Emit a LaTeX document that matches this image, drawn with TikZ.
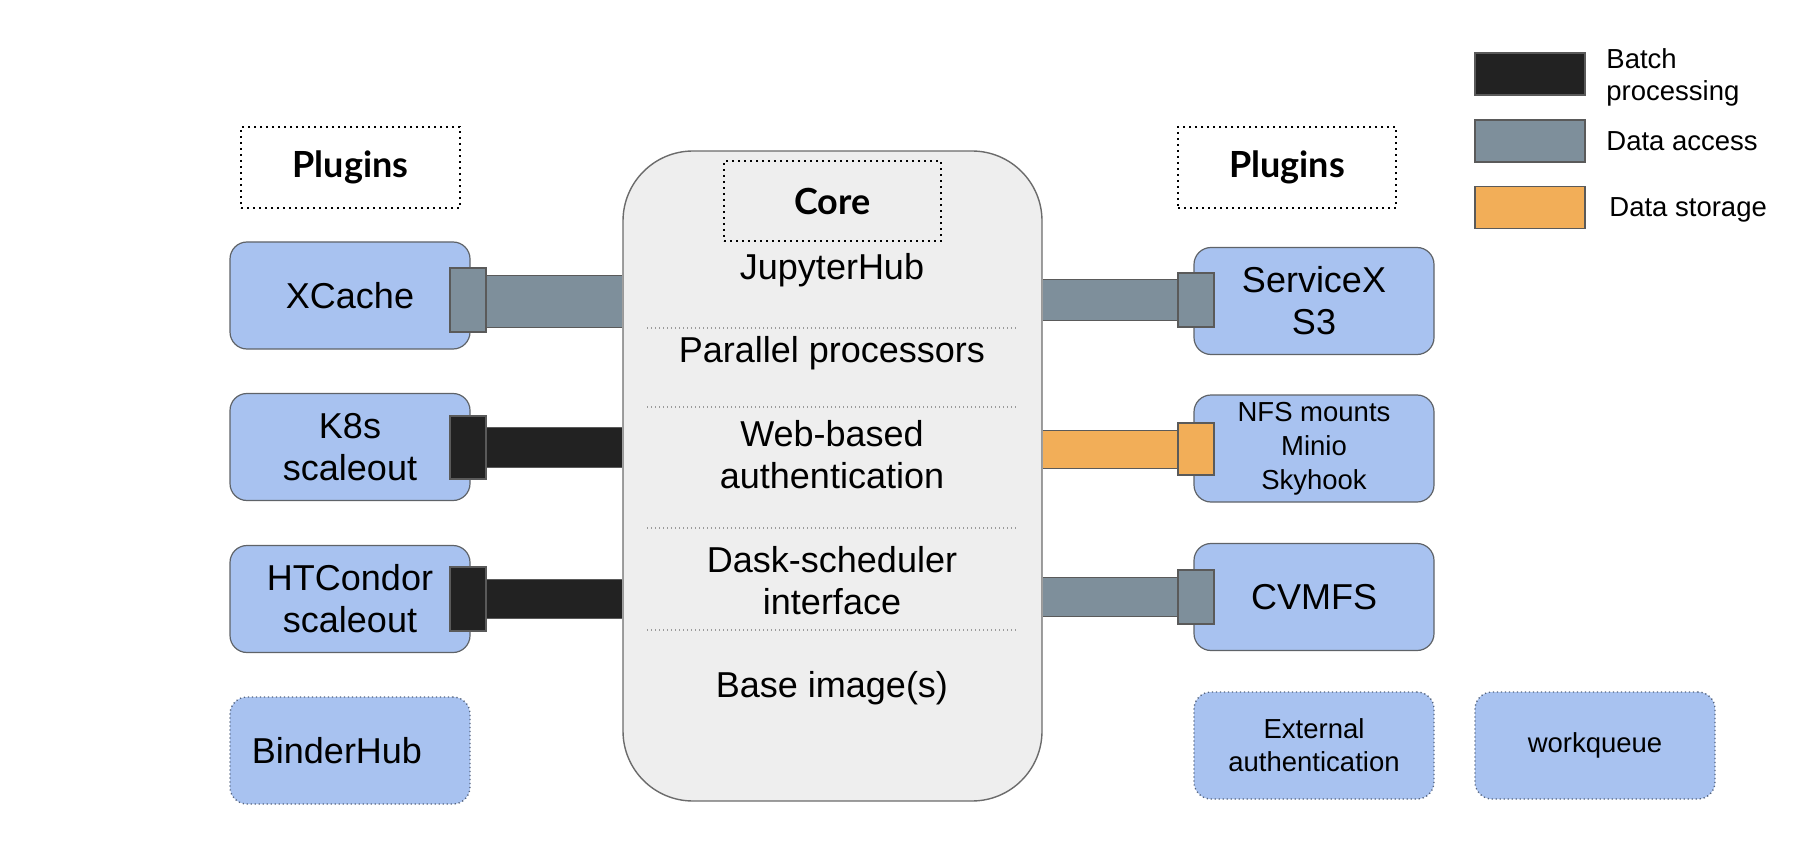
\documentclass[tikz,border=0pt]{standalone}
\usepackage{fontspec}
\setmainfont{Liberation Sans}
\newfontfamily\latofont{Lato}
\usetikzlibrary{backgrounds}
\definecolor{plugblue}{HTML}{A8C2F0}
\definecolor{boxline}{HTML}{5F6368}
\definecolor{corefill}{HTML}{EEEEEE}
\definecolor{coreline}{HTML}{6B6B6B}
\definecolor{accgrey}{HTML}{7E8F9B}
\definecolor{batchblack}{HTML}{222222}
\definecolor{storeorange}{HTML}{F2AE58}
\definecolor{connline}{HTML}{5A5A5A}
\definecolor{sepgrey}{HTML}{9A9A9A}
\definecolor{dotblue}{HTML}{56657F}
\begin{document}
\begin{tikzpicture}[x=0.5pt,y=-0.5pt,
  mainfont/.style={font=\fontsize{18}{21}\selectfont},
  smallfont/.style={font=\fontsize{13.75}{17}\selectfont},
  plugbox/.style={draw=boxline, line width=0.6pt, fill=plugblue, rounded corners=8.5pt,
    minimum width=120pt, minimum height=53.5pt, inner sep=0pt, align=center},
  dotbox/.style={plugbox, draw=dotblue, dash pattern=on 0.6pt off 1.4pt, line width=0.7pt},
  labelbox/.style={draw=black, line width=0.8pt, dash pattern=on 0.8pt off 2.2pt, inner sep=0pt,
    font=\latofont\bfseries\fontsize{18}{21}\selectfont},
  corebox/.style={draw=coreline, line width=0.7pt, fill=corefill, rounded corners=35pt,
    minimum width=209.5pt, minimum height=325pt, inner sep=0pt},
  coretext/.style={mainfont, align=center, inner sep=0pt},
  sepline/.style={draw=sepgrey, line width=0.7pt, dash pattern=on 0.6pt off 1.4pt},
  connrect/.style={draw=connline, line width=1pt, minimum width=18pt, inner sep=0pt},
  bar/.style={draw=connline, line width=0.5pt},
  legrect/.style={draw=connline, line width=0.8pt, minimum width=55pt, minimum height=21pt, inner sep=0pt},
  legtext/.style={font=\fontsize{13.75}{16}\selectfont, align=left, inner sep=0pt, anchor=west}
]
\useasboundingbox (0,0) rectangle (1820,866);

% legend
\node[legrect, fill=batchblack] (lgb) at (1530,74) {};
\node[legrect, fill=accgrey] (lga) at (1530,141) {};
\node[legrect, fill=storeorange] (lgs) at (1530,207.5) {};
\node[legtext] (lgbt) at (1606,77) {Batch\\processing};
\node[legtext] (lgat) at (1606,141) {Data access};
\node[legtext] (lgst) at (1609,210) {Data storage};

% plugin headings
\node[labelbox, minimum width=109.5pt, minimum height=40.5pt] (plugl) at (350.5,167.5) {Plugins};
\node[labelbox, minimum width=109pt, minimum height=40.5pt] (plugr) at (1287,167.5) {Plugins};

% core
\node[corebox] (core) at (832.5,476) {};
\node[labelbox, minimum width=108.5pt, minimum height=40pt] (corelabel) at (832.5,201) {Core};
\node[coretext] (jh) at (832,270.5) {JupyterHub};
\node[coretext] (pp) at (832,353.5) {Parallel processors};
\node[coretext] (wb) at (832,454.5) {Web-based\\authentication};
\node[coretext] (ds) at (832,581) {Dask-scheduler\\interface};
\node[coretext] (bi) at (832,688.5) {Base image(s)};
\draw[sepline] (647,328) -- (1016,328);
\draw[sepline] (647,407) -- (1016,407);
\draw[sepline] (647,528) -- (1016,528);
\draw[sepline] (647,630) -- (1016,630);

% left plugins
\node[plugbox, mainfont] (xcache) at (350,295.5) {XCache};
\node[plugbox, mainfont] (k8s) at (350,447) {K8s\\scaleout};
\node[plugbox, mainfont] (htc) at (350,599) {HTCondor\\scaleout};
\node[dotbox, mainfont] (binder) at (350,750.5) {BinderHub\hspace*{13pt}};

% right plugins
\node[plugbox, mainfont] (svx) at (1314,301) {ServiceX\\S3};
\node[plugbox, smallfont] (nfs) at (1314,448.5) {NFS mounts\\Minio\\Skyhook};
\node[plugbox, mainfont] (cvmfs) at (1314,597) {CVMFS};
\node[dotbox, font=\fontsize{13.75}{16.5}\selectfont] (ext) at (1314,745.5) {External\\authentication};
\node[dotbox, smallfont] (wq) at (1595,745.5) {workqueue};

% connector plugs
\node[connrect, fill=accgrey, minimum height=32pt] (xcc) at (468,300) {};
\node[connrect, fill=batchblack, minimum height=31.5pt] (k8c) at (468,447.5) {};
\node[connrect, fill=batchblack, minimum height=32pt] (htcc) at (468,599) {};
\node[connrect, fill=accgrey, minimum height=27pt] (svxc) at (1196,300) {};
\node[connrect, fill=storeorange, minimum height=26pt] (nfsc) at (1196,449) {};
\node[connrect, fill=accgrey, minimum height=27pt] (cvc) at (1196,597) {};

% bars
\begin{scope}[on background layer]
\draw[bar, double=accgrey, double distance=25.5pt] ([yshift=-0.75pt]xcc.center) -- ([yshift=-0.75pt]xcc.center -| core.west);
\draw[bar, double=batchblack, double distance=19.5pt] (k8c.center) -- (k8c.center -| core.west);
\draw[bar, double=batchblack, double distance=19pt] (htcc.center) -- (htcc.center -| core.west);
\draw[bar, double=accgrey, double distance=19.5pt] (svxc.center) -- (svxc.center -| core.east);
\draw[bar, double=storeorange, double distance=18.5pt] (nfsc.center) -- (nfsc.center -| core.east);
\draw[bar, double=accgrey, double distance=19pt] (cvc.center) -- (cvc.center -| core.east);
\end{scope}
\end{tikzpicture}
\end{document}
